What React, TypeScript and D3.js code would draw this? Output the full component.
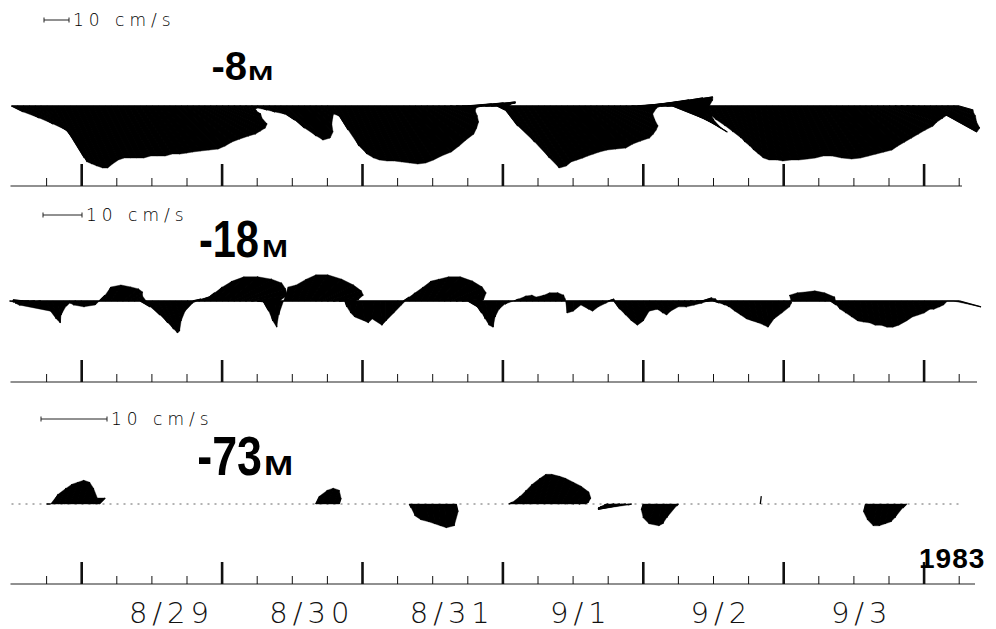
import React, { useEffect, useRef } from 'react'
import * as d3 from 'd3'

// records are hourly, first one at 8/28 12:00 (UTC used only as a clock)
const startTime = Date.UTC(1983, 7, 28, 12)
const hourMs = 3600 * 1000
const lastHour = 162

const dayLabels = ['8/29', '8/30', '8/31', '9/1', '9/2', '9/3']
const yearLabel = '1983'
const depthLabels = ['-8', '-18', '-73']
const refSpeed = 10
const refLabel = '10 cm/s'

// -8 m : east (u) and north (v) components, cm/s
const u8 = [
    4.8, 8.8, 12, 14.8, 17.2, 16.8, 15.2, 12.8, 11.6, 11.2, 10.8, 10.8,
    10.4, 10, 10, 10, 10.4, 10.4, 10.8, 11.2, 11.6, 12.4, 12.8, 13.6, 14, 14, 14.8, 16, 17.2, 17.6, 18, 18.8, 20, 20.4, 20, 19.6,
    18, 13.6, 10.8, 6.8, 4, 2.4, 4, 4.8, 6.4, 8, 9.6, 12, 12.4, 12.8, 11.6, 8.8, 6.8, 4.8, 4.8, 6, 8, 8.8, 9.2, 9.2,
    10, 10.4, 11.2, 12, 12.8, 13.6, 14.4, 15.2, 16.8, 17.6, 18, 18.8, 17.6, 16, 13.2, 10, 8, 8, 9.6, 12, 14.4, 12, 8, 3.2,
    6, 10.4, 14, 15.6, 16, 15.6, 15.6, 15.6, 15.2, 15.2, 15.2, 16, 17.2, 18.8, 19.2, 20, 21.2, 20.4, 19.2, 17.6, 14, 10.8, 10, 11.2,
    14, 16, 19.2, 20.8, 18.4, 12, 16, 17.2, 12.4, 7.2, 4, 3.6, 4.8, 5.6, 6.4, 5.6, 5.2, 4.4, 4, 3.6, 3.6, 4.4, 4.4, 5.2,
    6, 7.2, 8, 8.8, 10, 11.6, 13.2, 14.4, 15.2, 16, 16.8, 17.6, 17.6, 18, 18.4, 18.8, 19.2, 20, 19.2, 19.2, 19.2, 20, 20, 18.8,
    20, 18.8, 17.6, 14, 11.2, 8, 5.6,
]
const v8 = [
    -2.4, -4.8, -7.2, -9.6, -12, -15.2, -18.4, -20.8, -22.4, -23.2, -24, -24.8,
    -24.8, -23.2, -21.6, -20.8, -20.8, -20.8, -20.8, -20, -20, -20, -19.2, -19.2, -18.8, -18.4, -18, -17.6, -17.2, -16, -14.4, -13.2, -12, -11.2, -10, -8.8,
    -7.2, -4.8, -3.2, -2, -1.2, -0.8, -1.6, -2.4, -3.2, -5.6, -8.8, -12, -13.6, -12.8, -10.4, -7.2, -4.8, -3.2, -4, -9.6, -16, -19.2, -20.8, -21.6,
    -22, -22, -22.4, -22.8, -23.2, -22.8, -21.6, -20, -18.4, -16, -13.6, -11.2, -8.8, -6.4, -4, -2, -0.8, 0, 0.8, 1.2, 1.6, 1.2, 0.8, -1.6,
    -8, -14.4, -20.8, -24.8, -24, -22.4, -21.6, -20.8, -20, -19.2, -18.4, -17.6, -17.2, -16.8, -15.2, -14, -12.8, -11.2, -9.6, -8, -5.6, -3.2, -0.8, 0.8,
    1.6, 2.4, 3.2, 3.6, 2.4, -4.8, -8, -10.4, -8.8, -5.6, -4, -5.6, -8, -10.4, -12.8, -14.4, -16, -17.6, -19.2, -20.8, -21.6, -21.6, -22, -21.6,
    -21.6, -21.2, -20.8, -20, -20, -20.8, -21.2, -20.8, -20, -19.2, -18.4, -17.6, -16, -14.4, -12.8, -11.2, -9.6, -8, -6.4, -4.8, -3.2, -3.2, -4, -5.6,
    -8, -10.4, -8.8, -6.4, -4, -2.4, -1.6,
]

// -18 m
const u18 = [
    -0.5, -1.0, -2.6, -3.8, -5.1, -5.6, 1.0, 1.0, 0.5, -0.8, -1.0, -1.5,
    -2.1, -1.0, 0.5, 1.5, 1.5, 2.6, 3.6, 4.1, 3.6, 2.1, 2.6, 3.6, 4.1, 4.1, 3.6, 2.6, 1.5, 1.0, 1.5, 2.1, 2.6, 2.6, 3.1, 4.1,
    5.6, 7.7, 9.7, 10.8, 10.3, 9.2, 5.1, 1.5, 1.0, 0.5, -0.5, 0.5, 1.0, 2.1, 3.1, 4.6, 6.7, 8.2, 8.7, 7.7, 5.1, 0.5, 0, -0.5,
    0.5, 0, -0.5, 0.5, 0, 0.5, 1.0, 1.5, 1.5, 2.1, 2.6, 3.1, 4.1, 5.6, 7.2, 8.2, 7.7, 5.6, 2.6, 2.1, 1.5, 1.0, 0.5, -0.5,
    -1.0, -1.0, 1.0, 1.5, 1.5, 1.0, 1.5, 1.5, 2.1, 2.1, 1.0, 0, 0, 0.5, 1.0, 0.5, 0.5, 1.0, 1.5, 1.5, 1.5, 1.5, 1.5, 1.5,
    1.5, 2.1, 2.1, 1.5, 1.0, 1.5, 2.1, 2.6, 3.1, 3.1, 2.6, 2.1, 1.5, 1.5, 1.0, 1.0, 1.0, 1.0, 1.0, 1.0, 1.0, 0.5, 0.5, 1.0,
    1.5, 0.5, -1.5, -1.0, -0.5, 0.5, 1.5, 2.6, 1.5, 1.0, 1.0, 1.0, 1.0, 1.0, 1.0, 1.0, 1.0, 1.0, 1.0, 1.0, 1.5, 1.5, 1.5, 1.5,
    1.5, 1.0, 1.0, 0.5, 0, 0, 5.6,
]
const v18 = [
    0, -0.3, 0.3, 0, -0.5, -1.0, -2.6, -4.6, -5.6, -3.6, -1.3, -0.5,
    -1.0, -1.5, -1.0, 1.5, 3.6, 4.1, 3.6, 3.1, 2.3, 1.3, -1.5, -3.6, -5.6, -7.2, -8.2, -7.7, -5.1, -2.6, -0.5, 0.5, 1.0, 2.1, 3.6, 5.1,
    6.2, 6.2, 5.6, 4.6, 3.1, 1.5, -0.5, -2.6, -5.1, -6.7, -3.6, 3.6, 4.1, 5.6, 6.7, 6.7, 5.6, 4.1, 2.6, 1.5, 0.5, -1.5, -3.1, -4.1,
    -5.1, -5.6, -4.6, -6.2, -5.1, -3.1, -1.0, 1.0, 2.1, 3.6, 5.1, 5.6, 6.2, 6.2, 5.1, 3.6, 2.1, 0.5, -1.5, -3.1, -4.6, -6.2, -6.7, -4.1,
    -2.1, -0.8, 0.5, 1.3, 1.5, 1.0, 1.5, 2.1, 2.1, 1.5, 0.5, -3.1, -2.6, -1.0, -2.1, -2.6, -1.5, -0.5, 0.5, -2.1, -3.6, -5.1, -6.2, -5.1,
    -2.6, -2.1, -3.1, -3.6, -2.6, -1.5, -1.5, -1.0, -0.5, 0, 0.8, 0.5, -0.5, -1.0, -1.5, -2.6, -3.6, -4.6, -5.1, -5.6, -6.2, -6.7, -4.6, -3.1,
    -1.5, -0.5, 1.5, 2.1, 2.3, 2.6, 2.1, 1.0, -1.0, -2.1, -3.1, -4.1, -5.1, -5.4, -5.6, -6.2, -6.2, -6.7, -6.7, -6.2, -5.1, -4.1, -3.6, -3.1,
    -2.1, -2.1, -1.5, -1.0, 0, 0, -1.5,
]

// -73 m : only the hours with a visible current (all other hours ~0)
const hours73 = [
    6, 7, 8, 9, 10, 11, 12, 13, 14, 15,
    52, 53, 54, 55, 56,
    68, 69, 70, 71, 72, 73, 74, 75, 76,
    85, 86, 87, 88, 89, 90, 91, 92, 93, 94, 95, 96, 97, 98,
    102, 103, 104, 105, 106,
    108, 109, 110, 111, 112, 113, 114,
    128,
    146, 147, 148, 149, 150, 151, 152, 153,
]
const u73 = [
    0.6, 0.9, 1.2, 1.2, 1.2, 1.2, 1.2, 0.9, 0.6, 0.9,
    0.6, 0.9, 0.9, 0.9, 0.3,
    0.3, 0, 0, 0.3, 0.3, 0.3, 0.3, 0.6, 0.3,
    0.6, 0.9, 0.9, 0.9, 1.2, 1.2, 1.2, 1.5, 1.5, 1.8, 2.1, 2.4, 1.8, 0.6,
    -0.6, -2.1, -3.3, -4.2, -0.6,
    -0.3, -0.9, -0.9, -0.3, -0.6, -0.9, -0.3,
    0.15,
    -0.3, -0.6, -0.6, -0.6, -0.6, -0.6, -0.9, -0.6,
]
const v73 = [
    0, 1.5, 2.4, 3.0, 3.3, 3.6, 3.3, 2.4, 0.9, 0.9,
    1.2, 2.1, 2.4, 2.1, 0.9,
    -0.6, -1.8, -2.4, -2.7, -3.0, -3.3, -3.6, -3.3, -1.2,
    0.3, 1.2, 2.1, 3.0, 3.9, 4.5, 4.5, 4.2, 3.9, 3.3, 2.7, 1.8, 0.9, 0.3,
    -0.15, -0.45, -0.6, -0.8, -0.15,
    -0.9, -2.1, -3.0, -3.3, -3.0, -2.1, -0.3,
    1.2,
    -1.2, -2.4, -3.3, -3.3, -3.0, -2.7, -2.1, -0.6,
]

const allHours = d3.range(lastHour + 1)

const panels = [
    { depth: depthLabels[0], hours: allHours, u: u8, v: v8, px10: 25, baseY: 106, axisY: 186, axisEnd: 962,
      barX: 44, barY: 20, labelY: 80, numSize: 40, numSx: 1.0, numRight: 247, mX: 248, mSize: 21, mSx: 1.45, dashed: false },
    { depth: depthLabels[1], hours: allHours, u: u18, v: v18, px10: 39, baseY: 301, axisY: 382, axisEnd: 977,
      barX: 43, barY: 215, labelY: 257, numSize: 52, numSx: 0.8, numRight: 259, mX: 262, mSize: 24, mSx: 1.3, dashed: false },
    { depth: depthLabels[2], hours: hours73, u: u73, v: v73, px10: 66, baseY: 504, axisY: 584, axisEnd: 975,
      barX: 41, barY: 419, labelY: 475, numSize: 56, numSx: 0.8, numRight: 262, mX: 264, mSize: 28, mSx: 1.25, dashed: true },
]

const App: React.FC = () => {
    const ref = useRef<SVGSVGElement | null>(null)

    useEffect(() => {
        if (!ref.current) return
        const width = 996
        const height = 629
        const svg = d3.select(ref.current)
        svg.selectAll('*').remove()
        svg.attr('width', width).attr('height', height).attr('viewBox', `0 0 ${width} ${height}`)

        svg.append('rect').attr('width', width).attr('height', height).attr('fill', '#fff')

        const x = d3.scaleUtc()
            .domain([new Date(startTime), new Date(startTime + lastHour * hourMs)])
            .range([11.5, 959.2])
        const at = (h: number) => x(new Date(startTime + h * hourMs))

        const lightFont = 'DejaVu Sans, sans-serif'
        const boldFont = 'Liberation Sans, Arial, sans-serif'

        panels.forEach(p => {
            const k = d3.scaleLinear().domain([0, refSpeed]).range([0, p.px10])
            const g = svg.append('g')

            // baseline
            g.append('line')
                .attr('x1', at(0)).attr('x2', at(lastHour))
                .attr('y1', p.baseY).attr('y2', p.baseY)
                .attr('stroke', p.dashed ? '#666' : '#000')
                .attr('stroke-width', p.dashed ? 1 : 1.6)
                .attr('stroke-dasharray', p.dashed ? '2,5' : null)

            const recs = p.hours.map((h, i) => ({
                h,
                x0: at(h),
                x1: at(h) + k(p.u[i]),
                y1: p.baseY - k(p.v[i]),
            }))

            // fill between neighbouring sticks (dense record look)
            const quads = d3.pairs(recs).filter(([a, b]) => b.h - a.h === 1)
            g.selectAll('path.fan')
                .data(quads)
                .join('path')
                .attr('class', 'fan')
                .attr('d', ([a, b]) => `M${a.x0},${p.baseY}L${a.x1},${a.y1}L${b.x1},${b.y1}L${b.x0},${p.baseY}Z`)
                .attr('fill', '#000')
                .attr('stroke', '#000')
                .attr('stroke-width', 0.4)

            g.selectAll('line.stick')
                .data(recs)
                .join('line')
                .attr('class', 'stick')
                .attr('x1', d => d.x0).attr('y1', p.baseY)
                .attr('x2', d => d.x1).attr('y2', d => d.y1)
                .attr('stroke', '#000')
                .attr('stroke-width', 1.3)

            // time axis
            g.append('line')
                .attr('x1', at(0) - 1).attr('x2', p.axisEnd)
                .attr('y1', p.axisY).attr('y2', p.axisY)
                .attr('stroke', '#222').attr('stroke-width', 1.1)

            const ticks = d3.utcHour.every(6)!.range(
                new Date(startTime + 6 * hourMs),
                new Date(startTime + (lastHour + 1) * hourMs)
            )
            g.selectAll('line.tick')
                .data(ticks)
                .join('line')
                .attr('class', 'tick')
                .attr('x1', d => x(d)).attr('x2', d => x(d))
                .attr('y1', p.axisY)
                .attr('y2', d => p.axisY - (d.getUTCHours() === 0 ? 22 : 8))
                .attr('stroke', '#111')
                .attr('stroke-width', d => (d.getUTCHours() === 0 ? 2.6 : 1))

            // reference arrow  |--| 10 cm/s
            const bx2 = p.barX + k(refSpeed)
            const bar = g.append('g').attr('stroke', '#222').attr('stroke-width', 1)
            bar.append('line').attr('x1', p.barX).attr('x2', bx2).attr('y1', p.barY).attr('y2', p.barY)
            bar.append('line').attr('x1', p.barX).attr('x2', p.barX).attr('y1', p.barY - 2.5).attr('y2', p.barY + 2.5)
            bar.append('line').attr('x1', bx2).attr('x2', bx2).attr('y1', p.barY - 2.5).attr('y2', p.barY + 2.5)
            g.append('text')
                .attr('x', bx2 + 4).attr('y', p.barY + 6)
                .style('font-family', lightFont)
                .style('font-weight', '200')
                .style('font-size', '17px')
                .style('letter-spacing', '5px')
                .attr('fill', '#000')
                .text(refLabel)

            // depth label
            g.append('text')
                .attr('transform', `translate(${p.numRight},${p.labelY}) scale(${p.numSx},1)`)
                .attr('text-anchor', 'end')
                .style('font-family', boldFont)
                .style('font-weight', '700')
                .style('font-size', `${p.numSize}px`)
                .attr('fill', '#000')
                .text(p.depth)
            g.append('text')
                .attr('transform', `translate(${p.mX},${p.labelY}) scale(${p.mSx},1)`)
                .style('font-family', boldFont)
                .style('font-weight', '700')
                .style('font-size', `${p.mSize}px`)
                .attr('fill', '#000')
                .text('M')
        })

        // date labels under the last axis
        svg.selectAll('text.day')
            .data(dayLabels)
            .join('text')
            .attr('class', 'day')
            .attr('x', (d, i) => at(24 * (i + 1)) - 23)
            .attr('y', 623)
            .style('font-family', lightFont)
            .style('font-weight', '200')
            .style('font-size', '29px')
            .style('letter-spacing', '5px')
            .attr('fill', '#111')
            .text(d => d)

        svg.append('text')
            .attr('x', 919).attr('y', 568)
            .style('font-family', boldFont)
            .style('font-weight', '700')
            .style('font-size', '28px')
            .style('letter-spacing', '1px')
            .attr('fill', '#000')
            .text(yearLabel)
    }, [])

    return <svg ref={ref} style={{ position: 'absolute', left: 0, top: 0, display: 'block' }}></svg>
}

export default App
